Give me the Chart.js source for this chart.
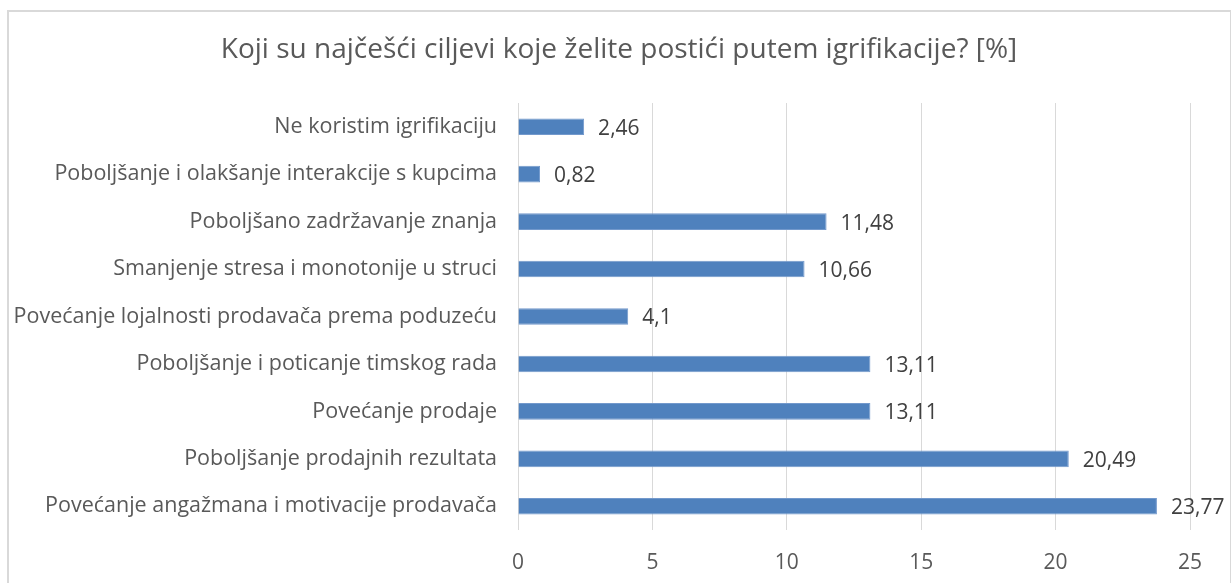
<!DOCTYPE html>
<html>
<head>
<meta charset="utf-8">
<script src="https://cdn.jsdelivr.net/npm/chart.js@4/dist/chart.umd.min.js"></script>
<style>
html,body{margin:0;padding:0;background:#fff;overflow:hidden;}
#frame{position:absolute;left:7px;top:10px;width:1225px;height:600px;border:2px solid #d9d9d9;box-sizing:border-box;}
#wrap{position:absolute;left:0;top:0;width:1231px;height:583px;}
</style>
</head>
<body>
<div id="frame"></div>
<div id="wrap"><canvas id="c" width="1231" height="583"></canvas></div>
<script>
const titleText = 'Koji su najčešći ciljevi koje želite postići putem igrifikacije? [%]';
const categories = [
  'Ne koristim igrifikaciju',
  'Poboljšanje i olakšanje interakcije s kupcima',
  'Poboljšano zadržavanje znanja',
  'Smanjenje stresa i monotonije u struci',
  'Povećanje lojalnosti prodavača prema poduzeću',
  'Poboljšanje i poticanje timskog rada',
  'Povećanje prodaje',
  'Poboljšanje prodajnih rezultata',
  'Povećanje angažmana i motivacije prodavača'
];
const values = [2.46, 0.82, 11.48, 10.66, 4.1, 13.11, 13.11, 20.49, 23.77];
const valueLabels = ['2,46', '0,82', '11,48', '10,66', '4,1', '13,11', '13,11', '20,49', '23,77'];
const xTicks = [0, 5, 10, 15, 20, 25];

const FONT = '"Open Sans", sans-serif';

const titlePlugin = {
  id: 'centeredTitle',
  afterDraw(chart) {
    const ctx = chart.ctx;
    ctx.save();
    ctx.font = '28px ' + FONT;
    ctx.fillStyle = '#595959';
    ctx.textAlign = 'center';
    ctx.textBaseline = 'middle';
    ctx.fillText(titleText, 619, 50);
    ctx.restore();
  }
};

const valueLabelPlugin = {
  id: 'valueLabels',
  afterDatasetsDraw(chart) {
    const ctx = chart.ctx;
    const meta = chart.getDatasetMeta(0);
    ctx.save();
    ctx.font = '21px ' + FONT;
    ctx.fillStyle = '#404040';
    ctx.textAlign = 'left';
    ctx.textBaseline = 'middle';
    meta.data.forEach((bar, i) => {
      ctx.fillText(valueLabels[i], bar.x + 14, bar.y + 2);
    });
    ctx.restore();
  }
};

new Chart(document.getElementById('c'), {
  type: 'bar',
  data: {
    labels: categories,
    datasets: [{
      data: values,
      backgroundColor: '#4f81bd',
      borderColor: '#7399cc',
      borderWidth: 1,
      barPercentage: 0.35,
      categoryPercentage: 1
    }]
  },
  options: {
    indexAxis: 'y',
    responsive: false,
    animation: false,
    layout: { padding: { left: 0, right: 41, top: 103, bottom: 0 } },
    plugins: {
      legend: { display: false },
      tooltip: { enabled: false },
      title: { display: false }
    },
    scales: {
      x: {
        min: 0, max: 25,
        afterBuildTicks(scale) { scale.ticks = xTicks.map(v => ({ value: v })); },
        afterFit(scale) { scale.height = 53; },
        grid: { color: '#d9d9d9', lineWidth: 1, drawTicks: false },
        border: { display: false },
        ticks: { color: '#595959', font: { family: FONT, size: 21 }, padding: 20 }
      },
      y: {
        afterFit(scale) { scale.width = 518; },
        grid: { display: false, drawTicks: false },
        border: { display: false },
        ticks: { color: '#595959', font: { family: FONT, size: 21.5 }, padding: 21 }
      }
    }
  },
  plugins: [valueLabelPlugin, titlePlugin]
});
</script>
</body>
</html>
